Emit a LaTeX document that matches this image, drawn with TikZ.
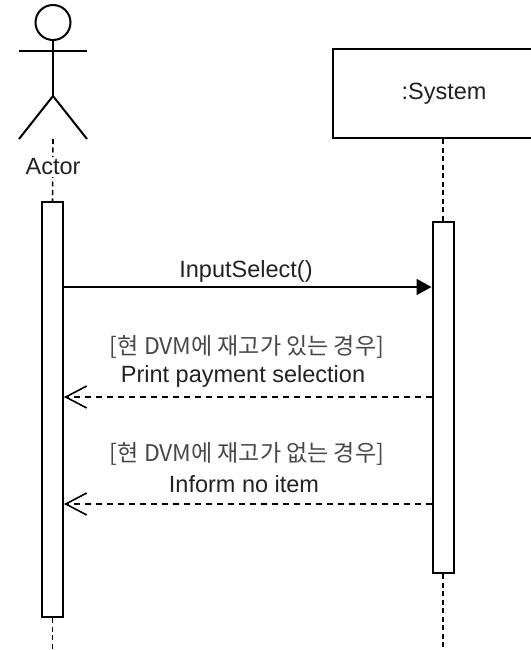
\documentclass[tikz,border=0pt]{standalone}
\usepackage{fontspec}
\setmainfont{Liberation Sans}
\newfontfamily\krfont{Noto Sans CJK KR}
\usetikzlibrary{arrows.meta}
\definecolor{txt}{HTML}{222222}
\definecolor{krtxt}{HTML}{484848}
\tikzset{
  figline/.style={line width=2pt, black},
  lifeline/.style={line width=1.6pt, dash pattern=on 5pt off 3.5pt},
  actbox/.style={draw, line width=2pt, fill=white, minimum width=21pt, inner sep=0pt},
  lbl/.style={text=txt, font=\fontsize{23.5}{28}\selectfont, inner sep=1pt},
  krlbl/.style={text=krtxt, font=\krfont\fontsize{23}{27}\selectfont, inner sep=1pt},
  callmsg/.style={line width=1.8pt, -{Triangle[length=15pt,width=16pt]}},
  retmsg/.style={line width=1.6pt, dash pattern=on 6pt off 5pt, -{Straight Barb[length=21pt,width=22pt,line width=1.6pt]}}
}
\begin{document}
\begin{tikzpicture}[x=1pt,y=-1pt]
\useasboundingbox[fill=white] (0,0) rectangle (530,650);
% actor figure
\node[circle, draw, line width=2pt, minimum size=35pt, inner sep=0pt] (head) at (53,22.5) {};
\draw[figline] (head.south) -- (53,96) coordinate (hip);
\draw[figline] (19,51) coordinate (larm) -- (87,51) coordinate (rarm);
\draw[figline] (19,139) coordinate (lfoot) -- (hip) -- (87,139) coordinate (rfoot);
% system box
\node[draw, line width=2pt, minimum width=222pt, minimum height=89pt, inner sep=0pt, lbl] (sys) at (444,93.5) {:System};
% activations
\node[actbox, minimum height=415pt] (aact) at (52.5,409.5) {};
\node[actbox, minimum height=351pt] (sact) at (443,397.5) {};
% lifelines
\coordinate (abottom) at (52.5,650);
\coordinate (sbottom) at (443,650);
\draw[lifeline] (53,139) -- (aact.north);
\draw[lifeline] (aact.south) -- (abottom);
\draw[lifeline] (sys.south -| sact.north) -- (sact.north);
\draw[lifeline] (sact.south) -- (sbottom);
\node[lbl, fill=white, inner sep=2pt] (actorlbl) at (53,167) {Actor};
% messages
\coordinate (m1) at (246,287);
\coordinate (r1) at (246,397);
\coordinate (r2) at (246,504);
\draw[callmsg] (aact.east |- m1) -- (sact.west |- m1);
\node[lbl] (m1lbl) at (246,271) {InputSelect()};
\draw[retmsg] (sact.west |- r1) -- (aact.east |- r1);
\node[krlbl] (r1cond) at (247,347) {[현 DVM에 재고가 있는 경우]};
\node[lbl] (r1lbl) at (243,376) {Print payment selection};
\draw[retmsg] (sact.west |- r2) -- (aact.east |- r2);
\node[krlbl] (r2cond) at (247,454) {[현 DVM에 재고가 없는 경우]};
\node[lbl] (r2lbl) at (244,484) {Inform no item};
\end{tikzpicture}
\end{document}
